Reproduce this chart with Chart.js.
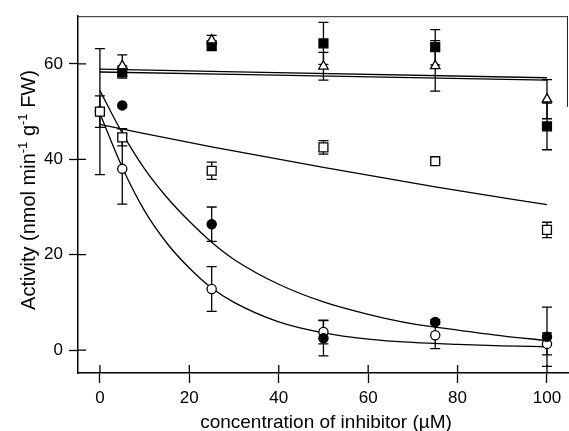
<!DOCTYPE html>
<html>
<head>
<meta charset="utf-8">
<script src="https://cdn.jsdelivr.net/npm/chart.js@4"></script>
<style>
  html, body { margin: 0; padding: 0; background: #fff; }
  #wrap { width: 569px; height: 431px; }
</style>
</head>
<body>
<div id="wrap"><canvas id="c" width="569" height="431"></canvas></div>
<script>
// tick labels
const xTicks = [0, 20, 40, 60, 80, 100];
const yTicks = [0, 20, 40, 60];

// measured points (value +/- error)
const fsqX = [5, 25, 50, 75, 100];
const fsqY = [58.3, 63.8, 64.3, 63.5, 46.9];
const fsqE = [1.3, 1.0, 4.4, 3.7, 4.9];

const otriX = [5, 25, 50, 75, 100];
const otriY = [59.6, 65.0, 59.5, 59.6, 52.6];
const otriE = [2.3, 1.0, 2.9, 5.3, 4.1];

const fcirX = [5, 25, 50, 75, 100];
const fcirY = [51.3, 26.4, 2.5, 5.9, 2.8];
const fcirE = [0, 3.6, 3.7, 0.5, 6.2];

const ocirX = [0, 5, 25, 50, 75, 100];
const ocirY = [50.0, 38.0, 12.8, 3.8, 3.1, 1.3];
const ocirE = [13.2, 7.4, 4.7, 2.5, 2.8, 2.3];

const osqX = [0, 5, 25, 50, 75, 100];
const osqY = [50.0, 44.6, 37.6, 42.5, 39.6, 25.2];
const osqE = [3.3, 1.8, 1.8, 1.4, 0.4, 1.6];

// fitted curves
const fitX = [0, 5, 10, 15, 20, 25, 30, 40, 50, 60, 70, 80, 90, 100];
const fitFilledCircle = [54.4, 45.5, 38.0, 32.0, 27.0, 22.6, 19.0, 13.8, 10.1, 7.5, 5.5, 4.2, 3.0, 2.0];
const fitOpenCircle = [49.6, 38.3, 29.2, 22.4, 17.2, 13.0, 10.0, 5.9, 3.6, 2.3, 1.6, 1.2, 0.9, 0.7];
const lineX = [0, 25, 50, 75, 100];
const fitOpenSquare = [47.3, 42.6, 38.3, 34.2, 30.5];
const flatX = [0, 100];
const fitFlatA = [58.9, 57.1];
const fitFlatB = [58.3, 56.6];

const FONT = "'Liberation Sans', Arial, Helvetica, sans-serif";

function pts(xs, ys) {
  return xs.map((x, i) => ({ x: x, y: ys[i] }));
}

function curve(xs, ys) {
  return {
    type: 'line',
    data: pts(xs, ys),
    borderColor: '#000',
    borderWidth: 1.3,
    pointRadius: 0,
    fill: false,
    cubicInterpolationMode: 'monotone',
    order: 10
  };
}

function marks(xs, ys, errs, style, filled, radius, order) {
  return {
    type: 'scatter',
    data: pts(xs, ys),
    errs: errs,
    pointStyle: style,
    pointRadius: radius,
    pointBorderColor: '#000',
    pointBackgroundColor: filled ? '#000' : '#fff',
    pointBorderWidth: 1.3,
    order: order
  };
}

// error bars under the markers, plus frame, inner tick halves and axis titles
const decor = {
  id: 'decor',
  beforeDatasetsDraw(chart) {
    const ctx = chart.ctx;
    const xs = chart.scales.x, ys = chart.scales.y;
    ctx.save();
    ctx.strokeStyle = '#000';
    ctx.lineWidth = 1.3;
    chart.data.datasets.forEach(ds => {
      if (!ds.errs) return;
      ds.data.forEach((p, i) => {
        const e = ds.errs[i];
        if (!e) return;
        const px = xs.getPixelForValue(p.x);
        const top = ys.getPixelForValue(p.y + e);
        const bot = ys.getPixelForValue(p.y - e);
        ctx.beginPath();
        ctx.moveTo(px, top); ctx.lineTo(px, bot);
        ctx.moveTo(px - 5, top); ctx.lineTo(px + 5, top);
        ctx.moveTo(px - 5, bot); ctx.lineTo(px + 5, bot);
        ctx.stroke();
      });
    });
    ctx.restore();
  },
  afterDraw(chart) {
    const ctx = chart.ctx;
    const a = chart.chartArea;
    const xs = chart.scales.x, ys = chart.scales.y;
    ctx.save();
    // top and right frame
    ctx.strokeStyle = '#222';
    ctx.lineWidth = 1;
    ctx.beginPath();
    ctx.moveTo(a.left, a.top + 0.5); ctx.lineTo(a.right, a.top + 0.5);
    ctx.moveTo(a.right - 0.5, a.top); ctx.lineTo(a.right - 0.5, ys.getPixelForValue(51));
    ctx.stroke();
    // inner half of the crossing ticks
    ctx.strokeStyle = '#000';
    ctx.lineWidth = 1.3;
    ctx.beginPath();
    xTicks.forEach(v => {
      const px = xs.getPixelForValue(v);
      ctx.moveTo(px, a.bottom); ctx.lineTo(px, a.bottom - 8);
    });
    yTicks.forEach(v => {
      const py = ys.getPixelForValue(v);
      ctx.moveTo(a.left, py); ctx.lineTo(a.left + 8, py);
    });
    ctx.stroke();

    // axis titles
    ctx.fillStyle = '#000';
    ctx.font = '19px ' + FONT;
    ctx.textAlign = 'center';
    ctx.textBaseline = 'alphabetic';
    ctx.fillText('concentration of inhibitor (\u00B5M)', (a.left + a.right) / 2 + 3, 428);

    const parts = [
      ['Activity (nmol min', false],
      ['-1', true],
      [' g', false],
      ['-1', true],
      [' FW)', false]
    ];
    const big = '20px ' + FONT, small = '13px ' + FONT;
    let total = 0;
    parts.forEach(p => { ctx.font = p[1] ? small : big; total += ctx.measureText(p[0]).width; });
    ctx.translate(35, 190);
    ctx.rotate(-Math.PI / 2);
    ctx.textAlign = 'left';
    let cx = -total / 2;
    parts.forEach(p => {
      ctx.font = p[1] ? small : big;
      ctx.fillText(p[0], cx, p[1] ? -8 : 0);
      cx += ctx.measureText(p[0]).width;
    });
    ctx.restore();
  }
};

new Chart(document.getElementById('c'), {
  data: {
    datasets: [
      marks(fsqX, fsqY, fsqE, 'rect', true, 6.3, 1),
      marks(otriX, otriY, otriE, 'triangle', false, 5.5, 0),
      marks(fcirX, fcirY, fcirE, 'circle', true, 4.6, 2),
      marks(osqX, osqY, osqE, 'rect', false, 6.3, 3),
      marks(ocirX, ocirY, ocirE, 'circle', false, 4.6, 4),
      curve(fitX, fitFilledCircle),
      curve(fitX, fitOpenCircle),
      curve(lineX, fitOpenSquare),
      curve(flatX, fitFlatA),
      curve(flatX, fitFlatB)
    ]
  },
  options: {
    responsive: false,
    animation: false,
    devicePixelRatio: 1,
    layout: { autoPadding: false, padding: { top: 15, right: 1, left: 0, bottom: 0 } },
    plugins: { legend: { display: false }, tooltip: { enabled: false } },
    scales: {
      x: {
        type: 'linear',
        min: -4.9,
        max: 104.7,
        afterBuildTicks: s => { s.ticks = xTicks.map(v => ({ value: v })); },
        afterFit: s => { s.height = 58; },
        grid: { drawOnChartArea: false, drawTicks: true, tickLength: 10, tickColor: '#000', tickWidth: 1.3 },
        border: { display: true, color: '#000', width: 1.5 },
        ticks: { color: '#000', font: { family: FONT, size: 17 }, padding: 5, maxRotation: 0 }
      },
      y: {
        type: 'linear',
        min: -4.8,
        max: 70,
        afterBuildTicks: s => { s.ticks = yTicks.map(v => ({ value: v })); },
        afterFit: s => { s.width = 78; },
        grid: { drawOnChartArea: false, drawTicks: true, tickLength: 9, tickColor: '#000', tickWidth: 1.3 },
        border: { display: true, color: '#000', width: 1.5 },
        ticks: { color: '#000', font: { family: FONT, size: 17 }, padding: 6 }
      }
    }
  },
  plugins: [decor]
});
</script>
</body>
</html>
